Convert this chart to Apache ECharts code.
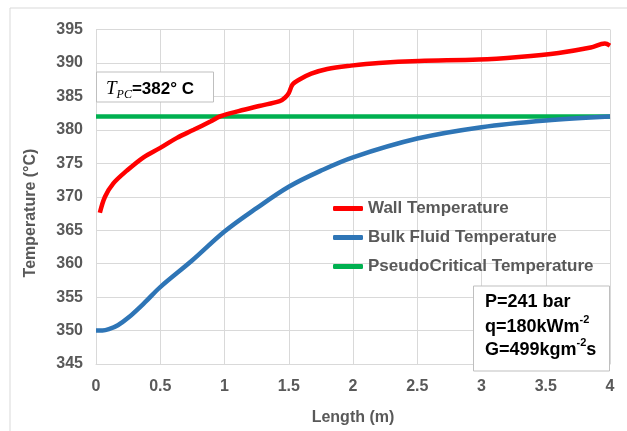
<!DOCTYPE html>
<html>
<head>
<meta charset="utf-8">
<script src="https://cdn.jsdelivr.net/npm/echarts@6/dist/echarts.min.js"></script>
<style>html,body{margin:0;padding:0;background:#fff;}#c{width:627px;height:431px;}</style>
</head>
<body>
<div id="c"></div>
<script>
var lengthWall = [0.03,0.07,0.135,0.24,0.37,0.5,0.63,0.76,0.89,0.97,1.11,1.27,1.43,1.47,1.5,1.53,1.58,1.675,1.8,1.985,2.2,2.515,2.98,3.29,3.6,3.85,3.96,4.0];
var tempWall = [367.6,370.0,372.0,373.9,375.9,377.3,378.8,380.0,381.25,382.05,382.8,383.56,384.3,384.8,385.5,386.8,387.5,388.4,389.1,389.6,390.0,390.3,390.5,390.9,391.5,392.3,392.9,392.6];
var lengthBulk = [0,0.05,0.1,0.17,0.25,0.38,0.5,0.75,1.0,1.25,1.5,1.75,2.0,2.5,3.0,3.5,4.0];
var tempBulk = [350.0,350.0,350.2,350.8,351.9,354.2,356.5,360.5,364.8,368.3,371.5,373.9,375.9,378.7,380.4,381.4,382.0];
var lengthPC = [0,4];
var tempPC = [382,382];
var seriesNames = ['Wall Temperature','Bulk Fluid Temperature','PseudoCritical Temperature'];
var xTicks = {min:0, max:4, interval:0.5};
var yTicks = {min:345, max:395, interval:5};

function pairs(xs, ys){ return xs.map(function(x,i){ return [x, ys[i]]; }); }

var chart = echarts.init(document.getElementById('c'));
var lab = {color:'#595959', fontWeight:'bold', fontSize:16, fontFamily:'Liberation Sans, Arial, sans-serif'};
chart.setOption({
  animation:false,
  grid:{left:96, right:17, top:29.5, bottom:60.3, containLabel:false},
  xAxis:{type:'value', min:xTicks.min, max:xTicks.max, interval:xTicks.interval,
    name:'Length (m)', nameLocation:'middle', nameGap:46,
    nameTextStyle:lab,
    axisLine:{lineStyle:{color:'#d9d9d9'}}, axisTick:{show:false},
    axisLabel:Object.assign({margin:15}, lab),
    splitLine:{show:true, lineStyle:{color:'#d9d9d9', width:1}}},
  yAxis:{type:'value', min:yTicks.min, max:yTicks.max, interval:yTicks.interval,
    axisLine:{show:true, lineStyle:{color:'#d9d9d9'}}, axisTick:{show:false},
    axisLabel:Object.assign({margin:13}, lab),
    splitLine:{show:true, lineStyle:{color:'#d9d9d9', width:1}}},
  legend:{orient:'vertical', left:328, top:195, itemWidth:30, itemHeight:5, itemGap:12,
    icon:'roundRect',
    data:seriesNames,
    textStyle:{color:'#595959', fontWeight:'bold', fontSize:17, lineHeight:17, fontFamily:'Liberation Sans, Arial, sans-serif'}},
  series:[
    {name:seriesNames[0], type:'line', data:pairs(lengthWall,tempWall), smooth:0.35, showSymbol:false, symbol:'none',
      lineStyle:{color:'#ff0000', width:4.5}, itemStyle:{color:'#ff0000'}, z:4},
    {name:seriesNames[1], type:'line', data:pairs(lengthBulk,tempBulk), smooth:0.35, showSymbol:false, symbol:'none',
      lineStyle:{color:'#2e75b6', width:4.5}, itemStyle:{color:'#2e75b6'}, z:3},
    {name:seriesNames[2], type:'line', data:pairs(lengthPC,tempPC), showSymbol:false, symbol:'none',
      lineStyle:{color:'#00b050', width:4.5}, itemStyle:{color:'#00b050'}, z:2}
  ],
  graphic:[
    {type:'rect', shape:{x:10, y:8, width:700, height:500}, style:{fill:'none', stroke:'#d9d9d9', lineWidth:1}, z:-1, silent:true},
    {type:'text', x:31, y:213, rotation:Math.PI/2, style:{text:'Temperature (°C)', fill:'#595959', font:'bold 16px "Liberation Sans", Arial, sans-serif', align:'center', verticalAlign:'middle'}},
    {type:'rect', shape:{x:96.5, y:72, width:117, height:30}, style:{fill:'#fff', stroke:'#bfbfbf', lineWidth:1}, z:10},
    {type:'text', x:106, y:87, z:11, style:{
      text:'{t|T}{s|PC}{n|=382° C}', verticalAlign:'middle',
      rich:{
        t:{fontFamily:'Liberation Serif, Times New Roman, serif', fontStyle:'italic', fontSize:19, lineHeight:22, fill:'#000', verticalAlign:'bottom'},
        s:{fontFamily:'Liberation Serif, Times New Roman, serif', fontStyle:'italic', fontSize:12, lineHeight:12, fill:'#000', verticalAlign:'bottom', padding:[0,0,-3,0]},
        n:{fontFamily:'Liberation Sans, Arial, sans-serif', fontWeight:'bold', fontSize:17, lineHeight:22, fill:'#000', verticalAlign:'bottom'}
      }}},
    {type:'rect', shape:{x:473.5, y:286, width:136, height:85}, style:{fill:'#fff', stroke:'#bfbfbf', lineWidth:1}, z:10},
    {type:'text', x:485, y:302, z:11, style:{text:'P=241 bar', font:'bold 18px "Liberation Sans", Arial, sans-serif', fill:'#000', verticalAlign:'middle'}},
    {type:'text', x:485, y:325, z:11, style:{text:'{a|q=180kWm}{p|-2}', verticalAlign:'middle',
      rich:{a:{font:'bold 18px "Liberation Sans", Arial, sans-serif', fill:'#000', lineHeight:22, verticalAlign:'bottom'},
            p:{font:'bold 11px "Liberation Sans", Arial, sans-serif', fill:'#000', lineHeight:11, verticalAlign:'top'}}}},
    {type:'text', x:485, y:348, z:11, style:{text:'{a|G=499kgm}{p|-2}{a|s}', verticalAlign:'middle',
      rich:{a:{font:'bold 18px "Liberation Sans", Arial, sans-serif', fill:'#000', lineHeight:22, verticalAlign:'bottom'},
            p:{font:'bold 11px "Liberation Sans", Arial, sans-serif', fill:'#000', lineHeight:11, verticalAlign:'top'}}}}
  ]
});
</script>
</body>
</html>
